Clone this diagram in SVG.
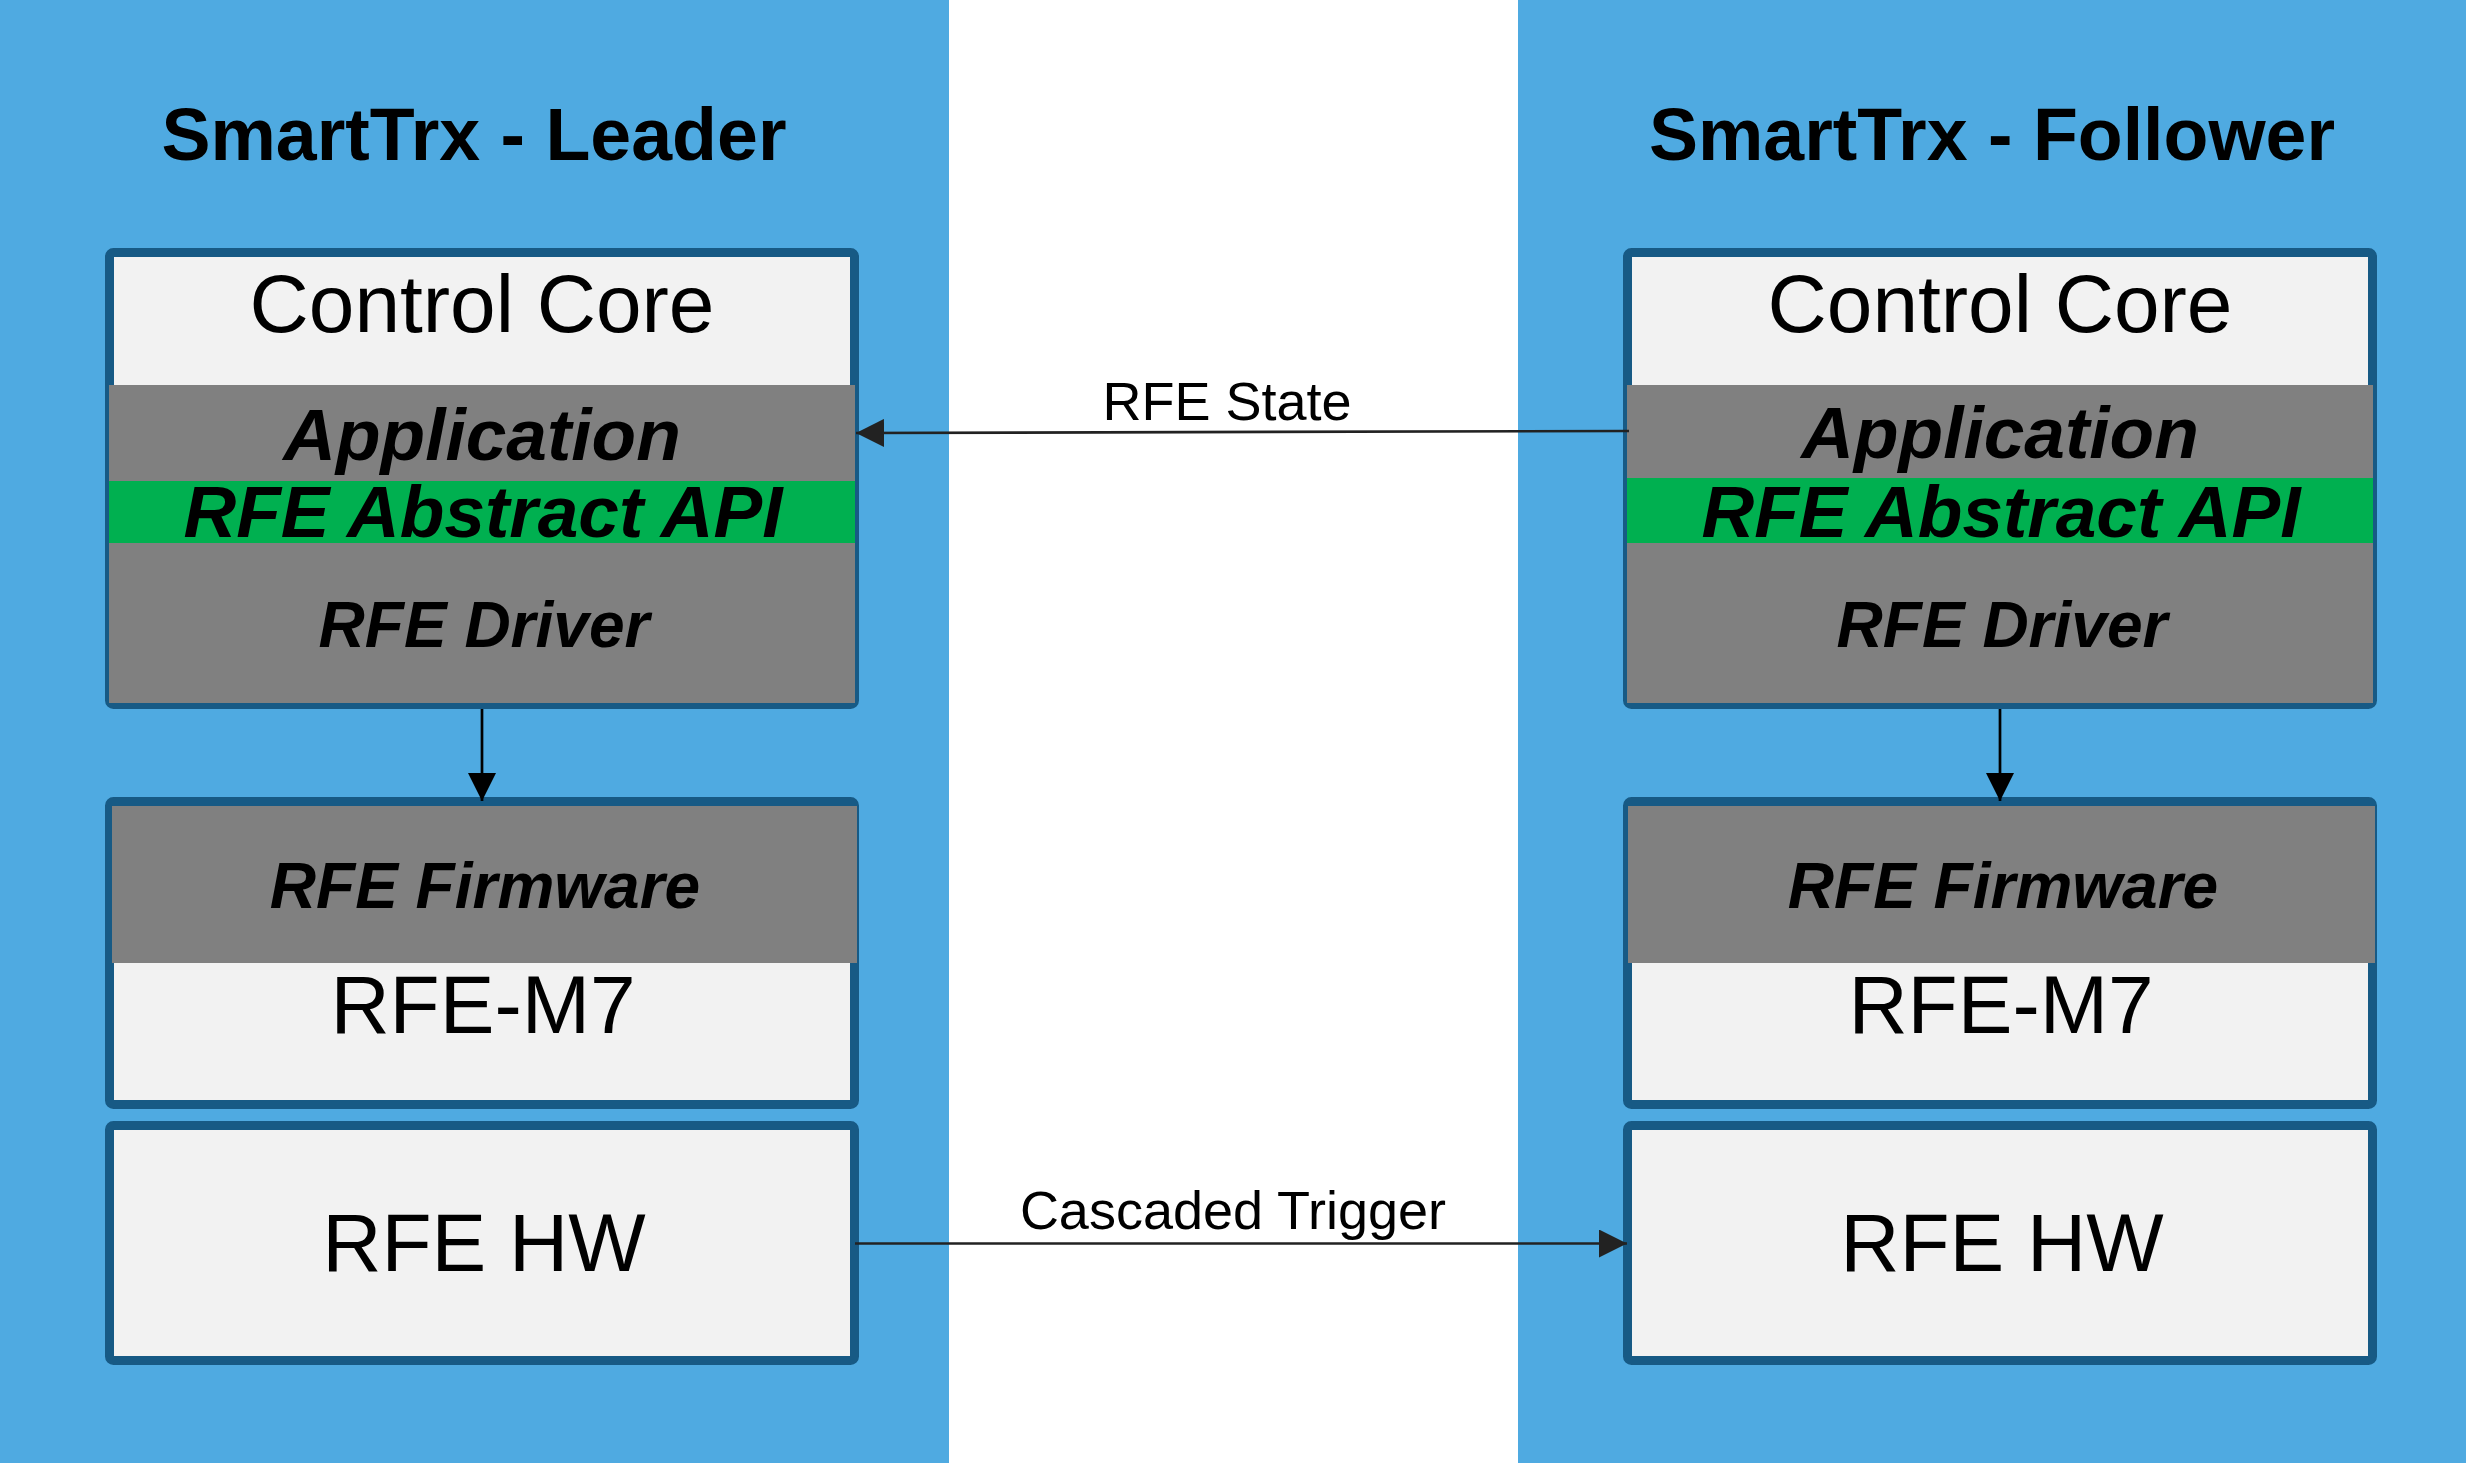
<svg xmlns="http://www.w3.org/2000/svg" width="2466" height="1463" viewBox="0 0 2466 1463">
<defs>
<style>
.panel{fill:#4FAAE1}
.box{fill:#F2F2F2;stroke:#175A85;stroke-width:9}
.gray{fill:#808080}
.green{fill:#00B050}
.t{font-family:"Liberation Sans",Arial,sans-serif;fill:#000;text-anchor:middle}
.title{font-weight:bold;font-size:73.5px}
.big{font-size:82px}
.bi{font-weight:bold;font-style:italic}
.lbl{font-size:54px}
.conn{fill:none;stroke-width:2.7}
</style>
<marker id="ahDark" markerUnits="userSpaceOnUse" markerWidth="28" markerHeight="28" refX="28" refY="14" orient="auto">
<path d="M0,0 L28,14 L0,28 z" fill="#222"/>
</marker>
<marker id="ahBlack" markerUnits="userSpaceOnUse" markerWidth="28" markerHeight="28" refX="28" refY="14" orient="auto">
<path d="M0,0 L28,14 L0,28 z" fill="#000"/>
</marker>
</defs>
<rect x="0" y="0" width="2466" height="1463" fill="#FFFFFF"/>
<rect class="panel" x="0" y="0" width="949" height="1463"/>
<rect class="panel" x="1518" y="0" width="948" height="1463"/>

<g id="title-leader"><text class="t title" x="474" y="160">SmartTrx - Leader</text></g>
<g id="title-follower"><text class="t title" x="1992" y="160">SmartTrx - Follower</text></g>

<g id="leader-control-core">
<rect class="box" x="109.5" y="252.5" width="745" height="452" rx="4"/>
<rect class="gray" x="109" y="385" width="746" height="318"/>
<rect class="green" x="109" y="481" width="746" height="62"/>
<text class="t big" x="482" y="332">Control Core</text>
<text class="t bi" x="482" y="460" font-size="73">Application</text>
<text class="t bi" x="483" y="537" font-size="73">RFE Abstract API</text>
<text class="t bi" x="484" y="647" font-size="64">RFE Driver</text>
</g>
<g id="leader-rfe-m7">
<rect class="box" x="109.5" y="801.5" width="745" height="303" rx="4"/>
<rect class="gray" x="112" y="806" width="745" height="157"/>
<text class="t bi" x="485" y="908" font-size="64">RFE Firmware</text>
<text class="t big" x="483" y="1033">RFE-M7</text>
</g>
<g id="leader-rfe-hw">
<rect class="box" x="109.5" y="1125.5" width="745" height="235" rx="4"/>
<text class="t big" x="484" y="1271">RFE HW</text>
</g>

<g id="follower-control-core">
<rect class="box" x="1627.5" y="252.5" width="745" height="452" rx="4"/>
<rect class="gray" x="1627" y="385" width="746" height="318"/>
<rect class="green" x="1627" y="478" width="746" height="65"/>
<text class="t big" x="2000" y="332">Control Core</text>
<text class="t bi" x="2000" y="458" font-size="73">Application</text>
<text class="t bi" x="2001" y="537" font-size="73">RFE Abstract API</text>
<text class="t bi" x="2002" y="647" font-size="64">RFE Driver</text>
</g>
<g id="follower-rfe-m7">
<rect class="box" x="1627.5" y="801.5" width="745" height="303" rx="4"/>
<rect class="gray" x="1628" y="806" width="747" height="157"/>
<text class="t bi" x="2003" y="908" font-size="64">RFE Firmware</text>
<text class="t big" x="2001" y="1033">RFE-M7</text>
</g>
<g id="follower-rfe-hw">
<rect class="box" x="1627.5" y="1125.5" width="745" height="235" rx="4"/>
<text class="t big" x="2002" y="1271">RFE HW</text>
</g>

<g id="connectors">
<line class="conn" x1="1629" y1="431" x2="856" y2="433" stroke="#222" marker-end="url(#ahDark)"/>
<text class="t lbl" x="1227" y="420">RFE State</text>
<line class="conn" x1="855" y1="1243.5" x2="1627" y2="1243.5" stroke="#222" marker-end="url(#ahDark)"/>
<text class="t lbl" x="1233" y="1229">Cascaded Trigger</text>
<line class="conn" x1="482" y1="709" x2="482" y2="801" stroke="#000" marker-end="url(#ahBlack)"/>
<line class="conn" x1="2000" y1="709" x2="2000" y2="801" stroke="#000" marker-end="url(#ahBlack)"/>
</g>
</svg>
